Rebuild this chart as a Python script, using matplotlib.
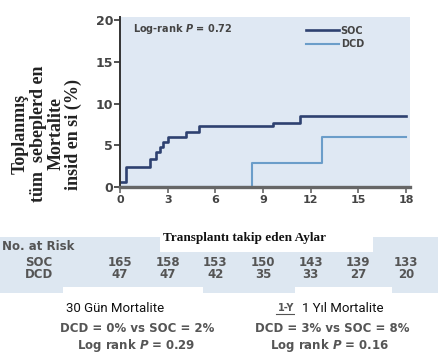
import matplotlib
matplotlib.use('Agg')
import matplotlib.pyplot as plt
from matplotlib.patches import Rectangle
import matplotlib.transforms as mtransforms

# Kaplan-Meier (cumulative incidence) steps
soc_t = [0, 0.4, 1.9, 2.25, 2.5, 2.7, 3.0, 4.15, 5.0, 9.6, 11.3, 18]
soc_y = [0.6, 2.4, 3.4, 4.2, 4.8, 5.4, 6.0, 6.6, 7.3, 7.7, 8.5, 8.5]
dcd_t = [0, 8.3, 12.7, 18]
dcd_y = [0, 2.9, 6.0, 6.0]

x_ticks = [0, 3, 6, 9, 12, 15, 18]
y_ticks = [0, 5, 10, 15, 20]
risk_soc = [165, 158, 153, 150, 143, 139, 133]
risk_dcd = [47, 47, 42, 35, 33, 27, 20]

c_soc = '#2e4170'
c_dcd = '#6b9dc9'
c_bg = '#dfe8f3'
c_gray = '#555555'

plt.rcParams['mathtext.fontset'] = 'dejavusans'

fig = plt.figure(figsize=(4.39, 3.6), dpi=100)
W, H = 439.0, 360.0

def fy(py):
    return 1 - py / H

ax = fig.add_axes([120 / W, fy(187), 290 / W, 170 / H])
ax.set_facecolor(c_bg)
ax.step(soc_t, soc_y, where='post', color=c_soc, lw=1.9, label='SOC')
ax.step(dcd_t, dcd_y, where='post', color=c_dcd, lw=1.5, label='DCD')
ax.set_xlim(0, 18.25)
ax.set_ylim(0, 20.4)
ax.set_xticks(x_ticks)
ax.set_yticks(y_ticks)
for s in ['top', 'right']:
    ax.spines[s].set_visible(False)
ax.spines['left'].set_color('#333333')
ax.spines['left'].set_linewidth(1.4)
ax.spines['bottom'].set_color('#666666')
ax.spines['bottom'].set_linewidth(2.4)
ax.tick_params(axis='y', length=4, width=1.2, color='#333333', labelsize=9,
               labelcolor='#444444', pad=1)
ax.tick_params(axis='x', length=4, width=1.2, color='#666666', labelsize=8,
               labelcolor='#444444', pad=2)
for lab in ax.get_xticklabels() + ax.get_yticklabels():
    lab.set_fontweight('bold')

ax.text(0.045, 0.93, 'Log-rank $\\mathbfit{P}$ = 0.72', transform=ax.transAxes,
        fontsize=7, fontweight='bold', color='#444444', va='center')
ax.legend(loc='upper left', bbox_to_anchor=(0.61, 1.0), frameon=False,
          handlelength=3.4, handletextpad=0.2, labelspacing=0.35,
          prop={'size': 7, 'weight': 'bold'}, labelcolor='#444444')

# y label
fig.text(47 / W, fy(134), 'Toplanmış\ntüm  sebeplerd en\nMortalite\ninsid en si (%)',
         rotation=90, ha='center', va='center', multialignment='center',
         family='Liberation Serif', fontweight='bold', fontsize=13,
         linespacing=1.05, color='#222222')

# risk table band
fig.patches.append(Rectangle((0, fy(293)), 1, (293 - 237) / H, transform=fig.transFigure,
                             facecolor='#dde7f1', edgecolor='none', zorder=0))
# white boxes
for (x0, y0, x1, y1) in [(160, 215, 373, 252), (63, 287, 203, 316), (295, 287, 392, 316)]:
    fig.patches.append(Rectangle((x0 / W, fy(y1)), (x1 - x0) / W, (y1 - y0) / H,
                                 transform=fig.transFigure, facecolor='white',
                                 edgecolor='none', zorder=1))

fig.text(245 / W, fy(238), 'Transplantı takip eden Aylar', ha='center', va='center',
         family='Liberation Serif', fontweight='bold', fontsize=9.5, color='#111111',
         zorder=3)

fig.text(2 / W, fy(246), 'No. at Risk', ha='left', va='center', fontsize=8.5,
         fontweight='bold', color=c_gray)
fig.text(39 / W, fy(262), 'SOC', ha='center', va='center', fontsize=8.5,
         fontweight='bold', color=c_gray)
fig.text(39 / W, fy(274), 'DCD', ha='center', va='center', fontsize=8.5,
         fontweight='bold', color=c_gray)
trans = mtransforms.blended_transform_factory(ax.transData, fig.transFigure)
for m, a, b in zip(x_ticks, risk_soc, risk_dcd):
    fig.text(m, fy(262), str(a), transform=trans, ha='center', va='center',
             fontsize=8.5, fontweight='bold', color=c_gray)
    fig.text(m, fy(274), str(b), transform=trans, ha='center', va='center',
             fontsize=8.5, fontweight='bold', color=c_gray)

# mortality summaries
fig.text(115 / W, fy(308), '30 Gün Mortalite', ha='center', va='center',
         family='Roboto', fontsize=9.5, color='#111111', zorder=3)
fig.text(286 / W, fy(308), '1-Y', ha='center', va='center', fontsize=7,
         fontweight='bold', color=c_gray, zorder=0.5)
fig.lines.append(plt.Line2D([276 / W, 296 / W], [fy(314), fy(314)],
                            transform=fig.transFigure, color=c_gray, lw=0.8, zorder=0.5))
fig.text(343 / W, fy(308), '1 Yıl Mortalite', ha='center', va='center',
         family='Roboto', fontsize=9.5, color='#111111', zorder=3)

fig.text(137 / W, fy(328), 'DCD = 0% vs SOC = 2%', ha='center', va='center',
         fontsize=8.5, fontweight='bold', color=c_gray)
fig.text(136 / W, fy(346), 'Log rank $\\mathbfit{P}$ = 0.29', ha='center', va='center',
         fontsize=8.5, fontweight='bold', color=c_gray)
fig.text(332 / W, fy(328), 'DCD = 3% vs SOC = 8%', ha='center', va='center',
         fontsize=8.5, fontweight='bold', color=c_gray)
fig.text(330 / W, fy(346), 'Log rank $\\mathbfit{P}$ = 0.16', ha='center', va='center',
         fontsize=8.5, fontweight='bold', color=c_gray)

fig.savefig('out.png', dpi=100)
